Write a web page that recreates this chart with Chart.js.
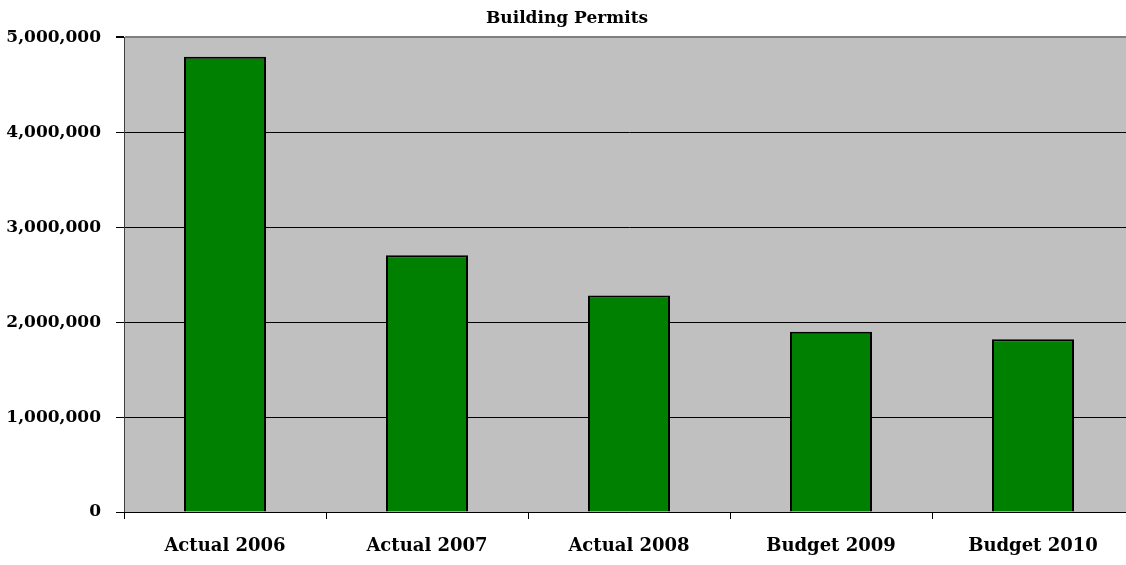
<!DOCTYPE html>
<html>
<head>
<meta charset="utf-8">
<script src="https://cdn.jsdelivr.net/npm/chart.js@4/dist/chart.umd.min.js"></script>
<style>
  html, body { margin: 0; padding: 0; background: #fff; overflow: hidden; }
  #wrap { width: 1136px; height: 565px; }
</style>
</head>
<body>
<div id="wrap"><canvas id="myChart" width="1136" height="565"></canvas></div>
<script>
// data
const categories = ['Actual 2006', 'Actual 2007', 'Actual 2008', 'Budget 2009', 'Budget 2010'];
const permits = [4795000, 2705000, 2280000, 1900000, 1820000];
const yTicks = [0, 1000000, 2000000, 3000000, 4000000, 5000000];

// gray plot area
const plotBg = {
  id: 'plotBg',
  beforeDraw(chart) {
    const a = chart.chartArea, c = chart.ctx;
    c.save();
    c.fillStyle = '#C0C0C0';
    c.fillRect(a.left, a.top, a.right - a.left, a.bottom - a.top);
    c.restore();
  }
};

const data = {
  labels: categories,
  datasets: [{
    label: 'Building Permits',
    data: permits,
    backgroundColor: '#008000',
    borderColor: '#000000',
    borderWidth: 2,
    barPercentage: 1,
    categoryPercentage: 0.406
  }]
};

const config = {
  type: 'bar',
  data,
  plugins: [plotBg],
  options: {
    responsive: false,
    animation: false,
    layout: { padding: { left: 0, right: 2, top: 0, bottom: 0 } },
    scales: {
      y: {
        min: 0,
        max: 5000000,
        afterBuildTicks(scale) { scale.ticks = yTicks.map(v => ({ value: v })); },
        afterFit(scale) { scale.width = 124; },
        border: { display: true, color: '#404040', width: 1 },
        grid: {
          color: ctx => (ctx.tick && ctx.tick.value === 5000000) ? '#808080' : '#000000',
          lineWidth: ctx => (ctx.tick && ctx.tick.value === 5000000) ? 2 : 1,
          tickColor: '#000000',
          tickLength: 8
        },
        ticks: {
          padding: 15,
          color: '#000',
          font: { family: 'DejaVu Serif', weight: 'bold', size: 17 },
          callback: v => v.toLocaleString('en-US')
        }
      },
      x: {
        afterFit(scale) { scale.height = 53; },
        border: { display: true, color: '#000000', width: 1 },
        grid: {
          offset: true,
          drawOnChartArea: false,
          drawTicks: true,
          tickColor: '#000000',
          tickLength: 7
        },
        ticks: {
          padding: 17,
          color: '#000',
          font: { family: 'DejaVu Serif', weight: 'bold', size: 18 }
        }
      }
    },
    plugins: {
      legend: { display: false },
      tooltip: { enabled: false },
      title: {
        display: true,
        text: 'Building Permits',
        color: '#000',
        font: { family: 'DejaVu Serif', weight: 'bold', size: 17 },
        padding: { top: 8, bottom: 9 }
      }
    }
  }
};

const myChart = new Chart(document.getElementById('myChart'), config);
</script>
</body>
</html>
